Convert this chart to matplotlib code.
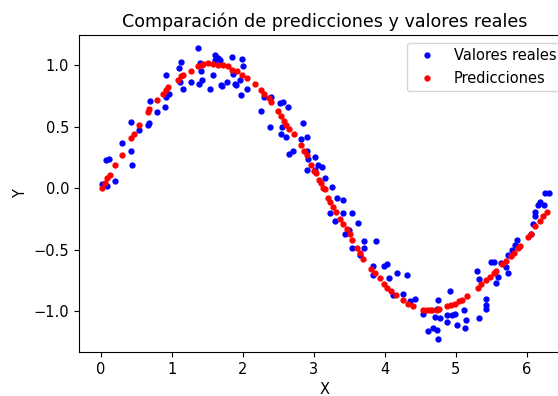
import matplotlib
matplotlib.use("Agg")
import matplotlib.pyplot as plt

# valores reales (x, y)
x_real = [0.02, 0.07, 0.09, 0.11, 0.19, 0.30, 0.42, 0.42, 0.44, 0.53,
          0.66, 0.68, 0.69, 0.79, 0.90, 0.92, 0.92, 0.96, 1.10, 1.11,
          1.12, 1.16, 1.27, 1.37, 1.38, 1.40, 1.41, 1.42, 1.54, 1.58,
          1.60, 1.61, 1.65, 1.68, 1.69, 1.71, 1.77, 1.84, 1.86, 1.89,
          1.90, 1.96, 1.97, 1.98, 2.00, 2.05, 2.26, 2.29, 2.38, 2.40,
          2.52, 2.54, 2.55, 2.57, 2.60, 2.63, 2.65, 2.71, 2.82, 2.85,
          2.90, 2.90, 2.90, 2.92, 3.02, 3.02, 3.05, 3.11, 3.15, 3.25,
          3.33, 3.41, 3.23, 3.30, 3.41, 3.44, 3.49, 3.53, 3.53, 3.62,
          3.65, 3.70, 3.70, 3.83, 3.83, 3.87, 3.99, 4.03, 4.06, 4.11,
          4.17, 4.25, 4.31, 4.35, 4.42, 4.53, 4.61, 4.67, 4.70, 4.73,
          4.74, 4.75, 4.75, 4.77, 4.87, 4.88, 4.92, 4.94, 4.98, 5.01,
          5.12, 5.13, 5.14, 5.29, 5.32, 5.32, 5.43, 5.43, 5.43, 5.49,
          5.54, 5.56, 5.59, 5.63, 5.71, 5.73, 5.74, 5.79, 5.83, 5.86,
          6.06, 6.09, 6.11, 6.12, 6.15, 6.18, 6.24, 6.26, 6.31]
y_real = [0.03, 0.23, 0.02, 0.24, 0.06, 0.37, 0.54, 0.30, 0.19, 0.47,
          0.51, 0.53, 0.71, 0.62, 0.66, 0.74, 0.92, 0.77, 0.98, 0.86,
          1.03, 0.81, 0.86, 1.14, 0.85, 1.02, 0.95, 0.88, 0.81, 0.92,
          1.04, 1.08, 1.06, 1.04, 0.84, 0.83, 0.86, 1.07, 0.93, 0.85,
          0.84, 0.88, 0.76, 1.05, 0.99, 0.81, 0.63, 0.74, 0.50, 0.74,
          0.69, 0.44, 0.50, 0.70, 0.42, 0.66, 0.28, 0.30, 0.40, 0.53,
          0.42, 0.30, 0.15, 0.24, 0.25, 0.15, 0.19, 0.17, 0.08, 0.01,
          -0.08, -0.10, -0.20, -0.27, -0.20, -0.37, -0.34, -0.20, -0.49, -0.28,
          -0.54, -0.43, -0.49, -0.63, -0.71, -0.43, -0.63, -0.62, -0.73, -0.87,
          -0.69, -0.86, -0.71, -0.92, -0.90, -1.02, -1.16, -1.14, -1.05, -1.15,
          -0.98, -0.91, -1.23, -1.06, -1.03, -1.09, -0.84, -1.03, -1.02, -1.11,
          -0.99, -1.14, -1.07, -0.67, -0.74, -1.06, -0.90, -0.95, -0.98, -0.60,
          -0.60, -0.77, -0.72, -0.61, -0.64, -0.54, -0.69, -0.50, -0.46, -0.42,
          -0.37, -0.29, -0.23, -0.19, -0.14, -0.11, -0.14, -0.04, -0.04]

# predicciones del modelo (x, y)
x_pred = [0.02, 0.06, 0.09, 0.12, 0.19, 0.30, 0.42, 0.46, 0.53, 0.66,
          0.68, 0.79, 0.88, 0.92, 0.95, 1.09, 1.13, 1.16, 1.27, 1.37,
          1.42, 1.44, 1.51, 1.58, 1.65, 1.72, 1.79, 1.85, 1.91, 1.98,
          2.05, 2.17, 2.26, 2.30, 2.37, 2.40, 2.50, 2.54, 2.58, 2.61,
          2.65, 2.72, 2.82, 2.86, 2.90, 2.96, 3.00, 3.03, 3.07, 3.10,
          3.13, 3.15, 3.20, 3.23, 3.27, 3.31, 3.37, 3.41, 3.47, 3.51,
          3.54, 3.61, 3.65, 3.69, 3.81, 3.86, 3.93, 3.99, 4.03, 4.09,
          4.16, 4.25, 4.33, 4.40, 4.54, 4.59, 4.63, 4.66, 4.73, 4.76,
          4.87, 4.93, 4.99, 5.04, 5.09, 5.15, 5.31, 5.35, 5.43, 5.48,
          5.53, 5.57, 5.65, 5.71, 5.77, 5.82, 5.87, 5.90, 6.02, 6.06,
          6.12, 6.18, 6.23, 6.29]
y_pred = [0.00, 0.04, 0.08, 0.11, 0.19, 0.27, 0.41, 0.44, 0.51, 0.62,
          0.64, 0.72, 0.77, 0.80, 0.82, 0.88, 0.91, 0.92, 0.95, 0.99,
          1.00, 1.01, 1.02, 1.01, 1.00, 1.00, 0.99, 0.96, 0.95, 0.92,
          0.90, 0.85, 0.80, 0.77, 0.73, 0.70, 0.63, 0.59, 0.55, 0.51,
          0.48, 0.44, 0.35, 0.30, 0.27, 0.19, 0.14, 0.12, 0.07, 0.04,
          0.00, -0.01, -0.08, -0.11, -0.15, -0.19, -0.25, -0.29, -0.33, -0.37,
          -0.42, -0.49, -0.53, -0.58, -0.66, -0.69, -0.73, -0.78, -0.81, -0.84,
          -0.87, -0.91, -0.94, -0.96, -0.99, -0.99, -0.99, -0.99, -0.99, -0.98,
          -0.96, -0.95, -0.94, -0.92, -0.91, -0.88, -0.81, -0.78, -0.75, -0.72,
          -0.69, -0.67, -0.62, -0.59, -0.55, -0.53, -0.49, -0.47, -0.40, -0.37,
          -0.31, -0.27, -0.23, -0.19]

plt.rcParams["font.size"] = 10.5

fig = plt.figure(figsize=(5.58, 3.96), dpi=100)
ax = fig.add_axes([0.1416, 0.111, 0.879, 0.800])

ax.plot(x_real, y_real, ".", color="blue", ms=7, label="Valores reales")
ax.plot(x_pred, y_pred, ".", color="red", ms=7, label="Predicciones")

ax.set_xlim(-0.31, 6.6)
ax.set_ylim(-1.333, 1.244)
ax.set_xticks([0, 1, 2, 3, 4, 5, 6])
ax.set_yticks([-1.0, -0.5, 0.0, 0.5, 1.0])

ax.set_title("Comparación de predicciones y valores reales", fontsize=12.6)
ax.set_xlabel("X")
ax.set_ylabel("Y")
ax.legend(loc="upper right")

fig.savefig("out.png", dpi=100)
